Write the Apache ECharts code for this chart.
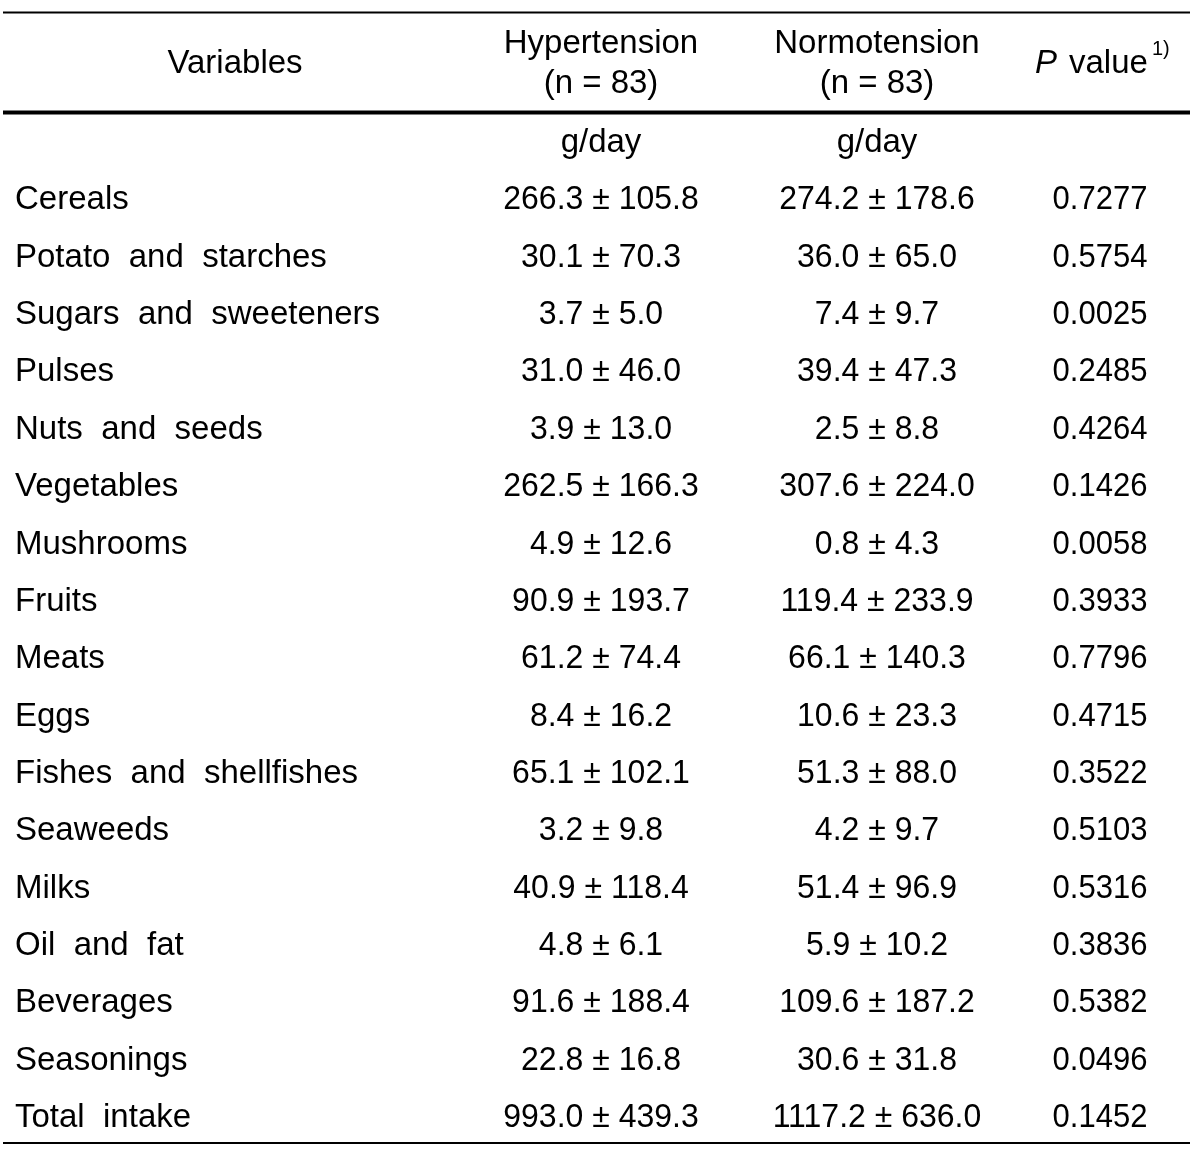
<!DOCTYPE html>
<html><head><meta charset="utf-8">
<script src="https://cdn.jsdelivr.net/npm/echarts@6/dist/echarts.min.js"></script>
<style>html,body{margin:0;padding:0;background:#fff}#c{width:1200px;height:1154px}</style>
</head><body><div id="c"></div>
<script>
// ---- data ----
const variables = ['Cereals','Potato  and  starches','Sugars  and  sweeteners','Pulses','Nuts  and  seeds','Vegetables','Mushrooms','Fruits','Meats','Eggs','Fishes  and  shellfishes','Seaweeds','Milks','Oil  and  fat','Beverages','Seasonings','Total  intake'];
const hyperMean = [266.3,30.1,3.7,31.0,3.9,262.5,4.9,90.9,61.2,8.4,65.1,3.2,40.9,4.8,91.6,22.8,993.0];
const hyperSD   = [105.8,70.3,5.0,46.0,13.0,166.3,12.6,193.7,74.4,16.2,102.1,9.8,118.4,6.1,188.4,16.8,439.3];
const normoMean = [274.2,36.0,7.4,39.4,2.5,307.6,0.8,119.4,66.1,10.6,51.3,4.2,51.4,5.9,109.6,30.6,1117.2];
const normoSD   = [178.6,65.0,9.7,47.3,8.8,224.0,4.3,233.9,140.3,23.3,88.0,9.7,96.9,10.2,187.2,31.8,636.0];
const pValues   = [0.7277,0.5754,0.0025,0.2485,0.4264,0.1426,0.0058,0.3933,0.7796,0.4715,0.3522,0.5103,0.5316,0.3836,0.5382,0.0496,0.1452];
const unitLabel = 'g/day';
const headVariables = 'Variables';
const headHyper = ['Hypertension','(n = 83)'];
const headNormo = ['Normotension','(n = 83)'];
const headP = ['P','value','1)'];

// ---- layout ----
const FONT = '"Liberation Sans", Arial, sans-serif';
const FS = 33;
const colX = {name: 15, hyper: 601, normo: 877, p: 1100};
const colScale = {name: 1, hyper: 0.97, normo: 0.97, p: 0.94};
const pm = (m, s) => m.toFixed(1) + ' \u00b1 ' + s.toFixed(1);

const rows = [''].concat(variables);
const colTexts = {
  name: [''].concat(variables),
  hyper: [unitLabel].concat(hyperMean.map((m, i) => pm(m, hyperSD[i]))),
  normo: [unitLabel].concat(normoMean.map((m, i) => pm(m, normoSD[i]))),
  p: [''].concat(pValues.map(v => v.toFixed(4)))
};

function makeSeries(key, align) {
  const texts = colTexts[key];
  return {
    type: 'custom',
    coordinateSystem: 'cartesian2d',
    data: rows.map((r, i) => [colX[key], i]),
    silent: true,
    renderItem: function (params, api) {
      const pt = api.coord([api.value(0), api.value(1)]);
      const s = params.dataIndex === 0 ? 1 : colScale[key];
      return {
        type: 'text',
        x: pt[0], y: pt[1] + 3,
        scaleX: s,
        style: {
          text: texts[params.dataIndex],
          fontSize: FS, fontFamily: FONT, fill: '#000',
          align: align, textAlign: align,
          verticalAlign: 'middle', textVerticalAlign: 'middle'
        }
      };
    }
  };
}

function txt(x, y, t, opts) {
  opts = opts || {};
  return {
    type: 'text', x: x, y: y, silent: true,
    style: Object.assign({
      text: t, fontSize: FS, fontFamily: FONT, fill: '#000',
      align: 'center', textAlign: 'center',
      verticalAlign: 'middle', textVerticalAlign: 'middle'
    }, opts)
  };
}
function hline(y, w) {
  return {type: 'line', silent: true, shape: {x1: 3, y1: y, x2: 1190, y2: y}, style: {stroke: '#000', lineWidth: w}};
}

const chart = echarts.init(document.getElementById('c'), null, {renderer: 'canvas'});
chart.setOption({
  animation: false,
  backgroundColor: '#fff',
  grid: {left: 0, right: 0, top: 111.3, height: 1032.3},
  xAxis: {type: 'value', min: 0, max: 1200, show: false},
  yAxis: {type: 'category', data: rows, inverse: true, show: false},
  series: [
    makeSeries('name', 'left'),
    makeSeries('hyper', 'center'),
    makeSeries('normo', 'center'),
    makeSeries('p', 'center')
  ],
  graphic: [
    hline(12.5, 2),
    hline(112.5, 4),
    hline(1143, 2),
    txt(235, 64, headVariables),
    txt(601, 44, headHyper[0]),
    txt(601, 84, headHyper[1]),
    txt(877, 44, headNormo[0]),
    txt(877, 84, headNormo[1]),
    txt(1035, 64, headP[0], {align: 'left', textAlign: 'left', fontStyle: 'italic'}),
    txt(1069, 64, headP[1], {align: 'left', textAlign: 'left'}),
    txt(1152, 49, headP[2], {align: 'left', textAlign: 'left', fontSize: 20})
  ]
});
</script>
</body></html>
